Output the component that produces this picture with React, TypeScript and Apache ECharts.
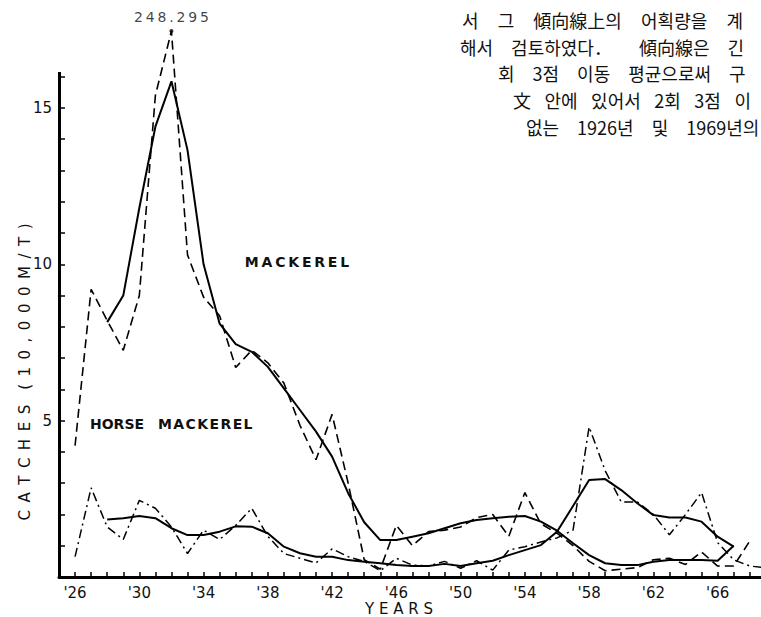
import React, { useEffect, useRef } from "react";
import * as echarts from "echarts";

// Years 1926–1969
const YEARS = [
  1926, 1927, 1928, 1929, 1930, 1931, 1932, 1933, 1934, 1935, 1936, 1937, 1938, 1939, 1940,
  1941, 1942, 1943, 1944, 1945, 1946, 1947, 1948, 1949, 1950, 1951, 1952, 1953, 1954, 1955,
  1956, 1957, 1958, 1959, 1960, 1961, 1962, 1963, 1964, 1965, 1966, 1967, 1968, 1969,
];

// Mackerel catches (10,000 M/T), 1926–1968
const MACKEREL_CATCH = [
  4.2, 9.2, 8.2, 7.25, 9.0, 15.4, 24.8295, 10.3, 8.95, 8.35, 6.7, 7.25, 6.85, 6.2, 4.85,
  3.75, 5.2, 3.0, 0.55, 0.25, 1.65, 1.0, 1.45, 1.5, 1.6, 1.9, 2.0, 1.3, 2.7, 1.7,
  1.4, 1.0, 0.5, 0.2, 0.25, 0.3, 0.55, 0.6, 0.4, 0.8, 0.35, 0.35, 1.15,
];

// Horse mackerel catches (10,000 M/T), 1926–1969
const HORSE_CATCH = [
  0.65, 2.85, 1.6, 1.2, 2.45, 2.2, 1.6, 0.75, 1.5, 1.2, 1.65, 2.2, 1.3, 0.75, 0.6,
  0.45, 0.9, 0.65, 0.5, 0.2, 0.6, 0.38, 0.35, 0.5, 0.28, 0.52, 0.22, 0.86, 0.97, 1.12,
  1.25, 1.5, 4.8, 3.4, 2.4, 2.4, 2.0, 1.35, 2.0, 2.7, 1.1, 0.55, 0.35, 0.3,
];

// Trend lines (2-times 3-point moving average), 1928–1967
const TREND_START_INDEX = 2;
const MACKEREL_TREND = [
  8.15, 9.0, 11.8, 14.4, 15.85, 13.65, 10.0, 8.1, 7.45, 7.2, 6.72, 6.03, 5.34, 4.65, 3.85,
  2.68, 1.75, 1.18, 1.18, 1.29, 1.4, 1.56, 1.72, 1.82, 1.88, 1.93, 1.95, 1.77, 1.48, 1.08,
  0.7, 0.44, 0.38, 0.38, 0.49, 0.54, 0.54, 0.54, 0.52, 1.0,
];
const HORSE_TREND = [
  1.84, 1.88, 1.95, 1.88, 1.56, 1.34, 1.34, 1.45, 1.62, 1.61, 1.4, 0.97, 0.76, 0.65, 0.65,
  0.54, 0.49, 0.44, 0.38, 0.35, 0.35, 0.42, 0.35, 0.44, 0.52, 0.7, 0.86, 1.02, 1.45, 2.27,
  3.1, 3.13, 2.78, 2.36, 1.98, 1.9, 1.9, 1.77, 1.29, 0.97,
];

const X_TICK_YEARS = YEARS.slice(0, 43);
const X_LABEL_YEARS = [1926, 1930, 1934, 1938, 1942, 1946, 1950, 1954, 1958, 1962, 1966];
const Y_TICKS = [0, 1, 2, 3, 4, 5, 6, 7, 8, 9, 10, 11, 12, 13, 14, 15, 16];
const Y_LABELS = [5, 10, 15];

const PEAK_YEAR = 1932;
const X_MIN = 1925;
const X_MAX = 1968.7;
const Y_TOP = 17.46; // values above this are drawn at the axis break
const Y_AXIS_END = 16.15;

const EN = "\u2002";
const QUARTER = "\u2005";
const THIN = "\u2009";
const HAIR = "\u200A";
const IDEO = "\u3000";
const WIDE = IDEO + HAIR;
const MID = EN + QUARTER;

const KOREAN_LINES = [
  `서${WIDE}그${WIDE}傾向線上의${WIDE}어획량을${WIDE}계`,
  `해서${IDEO}검토하였다．${IDEO}${IDEO}傾向線은${IDEO}긴`,
  `회${IDEO}3점${IDEO}이동${IDEO}평균으로써${IDEO}구`,
  `文${MID}안에${MID}있어서${MID}2회${MID}3점${MID}이`,
  `없는${IDEO}1926년${IDEO}및${IDEO}1969년의`,
];
const KOREAN_X = [462, 460, 498, 513, 526];
const KOREAN_Y = [20, 47, 73, 100, 127];

const LABEL_FONT = "DejaVu Sans";

function spaced(s: string, gap: string) {
  return s.split("").join(gap);
}

function pairs(years: number[], values: number[], offset = 0) {
  return values.map((v, i) => [years[i + offset], Math.min(v, Y_TOP)]);
}

export default function App() {
  const ref = useRef<HTMLDivElement>(null);

  useEffect(() => {
    if (!ref.current) return;
    const chart = echarts.init(ref.current, undefined, { renderer: "svg" });
    const peakValue = MACKEREL_CATCH[YEARS.indexOf(PEAK_YEAR)];

    const option: any = {
      animation: false,
      backgroundColor: "#ffffff",
      grid: { left: 59, right: 0, top: 31, bottom: 40, containLabel: false },
      xAxis: {
        type: "value",
        min: X_MIN,
        max: X_MAX,
        interval: 1,
        axisLine: { show: true, onZero: false, lineStyle: { color: "#000", width: 3 } },
        axisTick: {
          show: true,
          inside: true,
          length: 5,
          customValues: X_TICK_YEARS,
          lineStyle: { color: "#000", width: 1.5 },
        },
        axisLabel: {
          customValues: X_LABEL_YEARS,
          formatter: (v: number) => "'" + String(Math.round(v)).slice(2),
          color: "#111",
          fontSize: 15,
          fontFamily: LABEL_FONT,
          lineHeight: 15,
          margin: 8,
        },
        splitLine: { show: false },
      },
      yAxis: {
        type: "value",
        min: 0,
        max: Y_TOP,
        axisLine: { show: false },
        axisTick: {
          show: true,
          inside: true,
          length: 6,
          customValues: Y_TICKS,
          lineStyle: { color: "#000", width: 1.5 },
        },
        axisLabel: {
          customValues: Y_LABELS,
          color: "#111",
          fontSize: 15,
          fontFamily: LABEL_FONT,
          margin: 7,
        },
        splitLine: { show: false },
      },
      series: [
        {
          name: "Mackerel",
          type: "line",
          data: pairs(YEARS, MACKEREL_CATCH),
          symbol: "none",
          clip: true,
          lineStyle: { color: "#000", width: 1.6, type: [9, 5] },
        },
        {
          name: "Horse mackerel",
          type: "line",
          data: pairs(YEARS, HORSE_CATCH),
          symbol: "none",
          clip: true,
          lineStyle: { color: "#000", width: 1.5, type: [9, 4, 2, 4] },
        },
        {
          name: "Mackerel trend",
          type: "line",
          data: pairs(YEARS, MACKEREL_TREND, TREND_START_INDEX),
          symbol: "none",
          clip: true,
          lineStyle: { color: "#000", width: 2 },
          markLine: {
            silent: true,
            symbol: ["none", "none"],
            label: { show: false },
            lineStyle: { color: "#000", width: 3, type: "solid" },
            data: [[{ coord: [X_MIN, 0] }, { coord: [X_MIN, Y_AXIS_END] }]],
          },
        },
        {
          name: "Horse mackerel trend",
          type: "line",
          data: pairs(YEARS, HORSE_TREND, TREND_START_INDEX),
          symbol: "none",
          clip: true,
          lineStyle: { color: "#000", width: 2 },
        },
        {
          name: "Peak",
          type: "scatter",
          data: [[PEAK_YEAR, Y_TOP]],
          symbol: "circle",
          symbolSize: 4,
          clip: false,
          itemStyle: { color: "#000" },
          label: {
            show: true,
            position: "top",
            distance: 5,
            formatter: () => spaced((peakValue * 10).toFixed(3), THIN),
            color: "#111",
            fontSize: 14,
            fontFamily: LABEL_FONT,
          },
        },
      ],
      graphic: [
        {
          type: "text",
          x: 297,
          y: 262,
          style: {
            text: spaced("MACKEREL", THIN),
            font: `bold 14px "${LABEL_FONT}"`,
            fill: "#111",
            align: "center",
            verticalAlign: "middle",
          },
        },
        {
          type: "text",
          x: 90,
          y: 424,
          style: {
            text: "HORSE" + EN + EN + spaced("MACKEREL", HAIR),
            font: `bold 14px "${LABEL_FONT}"`,
            fill: "#111",
            align: "left",
            verticalAlign: "middle",
          },
        },
        {
          type: "text",
          x: 25,
          y: 372,
          rotation: Math.PI / 2,
          style: {
            text: spaced("CATCHES", EN) + EN + EN + spaced("(10,000M/T)", EN),
            font: `15px "${LABEL_FONT}"`,
            fill: "#111",
            align: "center",
            verticalAlign: "middle",
          },
        },
        {
          type: "text",
          x: 399,
          y: 609,
          style: {
            text: spaced("YEARS", " "),
            font: `15px "${LABEL_FONT}"`,
            fill: "#111",
            align: "center",
            verticalAlign: "middle",
          },
        },
        ...KOREAN_LINES.map((t, i) => ({
          type: "text",
          x: KOREAN_X[i],
          y: KOREAN_Y[i],
          style: {
            text: t,
            font: `18px "Noto Sans CJK KR"`,
            fill: "#111",
            align: "left",
            verticalAlign: "middle",
          },
        })),
      ],
    };

    chart.setOption(option);
    return () => chart.dispose();
  }, []);

  return (
    <div
      ref={ref}
      style={{ position: "absolute", left: 0, top: 0, width: 761, height: 617, background: "#fff" }}
    />
  );
}
